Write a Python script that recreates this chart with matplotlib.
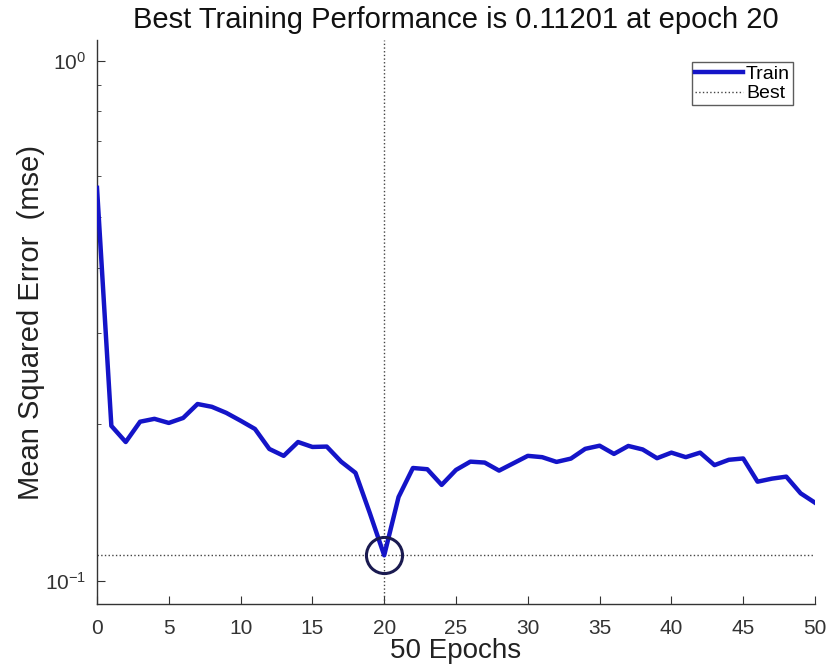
import matplotlib
matplotlib.use("Agg")
import matplotlib.pyplot as plt
import numpy as np

plt.rcParams['font.family'] = ['Liberation Sans', 'DejaVu Sans']

epochs = list(range(0, 51))
train_mse = [0.570, 0.1987, 0.185, 0.2024, 0.205, 0.2013, 0.2058, 0.2189, 0.2162, 0.2105,
             0.2033, 0.196, 0.1794, 0.174, 0.185, 0.181, 0.1813, 0.1696, 0.1614, 0.135,
             0.11201, 0.145, 0.1649, 0.164, 0.153, 0.1635, 0.1696, 0.1689, 0.163, 0.1684,
             0.174, 0.173, 0.1694, 0.1719, 0.1795, 0.182, 0.1755, 0.1818, 0.179, 0.1722,
             0.1765, 0.173, 0.1765, 0.167, 0.171, 0.172, 0.1552, 0.1573, 0.1587, 0.1474,
             0.1414]
best_epoch = 20
best_perf = 0.11201
x_ticks = [0, 5, 10, 15, 20, 25, 30, 35, 40, 45, 50]

fig = plt.figure(figsize=(8.30, 6.71), dpi=100)
ax = fig.add_axes([97/830, 1-604/671, (815-97)/830, (604-40)/671])

ax.plot(epochs, train_mse, color='#1414c8', lw=3.2, label='Train', zorder=3)
ax.axvline(best_epoch, color='#444444', ls=':', lw=1.0, label='Best', zorder=2)
ax.axhline(best_perf, color='#444444', ls=':', lw=1.0, zorder=2)
ax.plot([best_epoch], [best_perf], 'o', ms=26, mfc='none', mec='#1a1a50', mew=2.2, zorder=4)

ax.set_yscale('log')
ax.set_xlim(0, 50)
ax.set_ylim(0.0903, 1.097)
ax.set_xticks(x_ticks)
ax.set_xticklabels([str(t) for t in x_ticks])
ax.tick_params(axis='both', which='both', direction='in', labelsize=15, colors='#333333')
ax.tick_params(axis='x', pad=11)
ax.tick_params(axis='y', pad=8)
ax.tick_params(which='major', length=6)
ax.tick_params(which='minor', length=3)
for s in ['top', 'right']:
    ax.spines[s].set_visible(False)
for s in ['left', 'bottom']:
    ax.spines[s].set_color('#333333')
    ax.spines[s].set_linewidth(1.0)

ax.set_title('Best Training Performance is 0.11201 at epoch 20', fontsize=21, pad=9, color='#111111')
ax.set_xlabel('50 Epochs', fontsize=20, color='#222222', labelpad=0)
ax.set_ylabel('Mean Squared Error  (mse)', fontsize=21, color='#222222', labelpad=0)

leg = ax.legend(loc='upper right', bbox_to_anchor=(793/830, 1-62/671), bbox_transform=fig.transFigure,
                fontsize=14, frameon=True, fancybox=False, handlelength=2.5,
                handletextpad=0.15, borderpad=0.15, labelspacing=0.12, borderaxespad=0)
leg.get_frame().set_edgecolor('#333333')
leg.get_frame().set_linewidth(1.0)

fig.savefig('out.png', dpi=100)
